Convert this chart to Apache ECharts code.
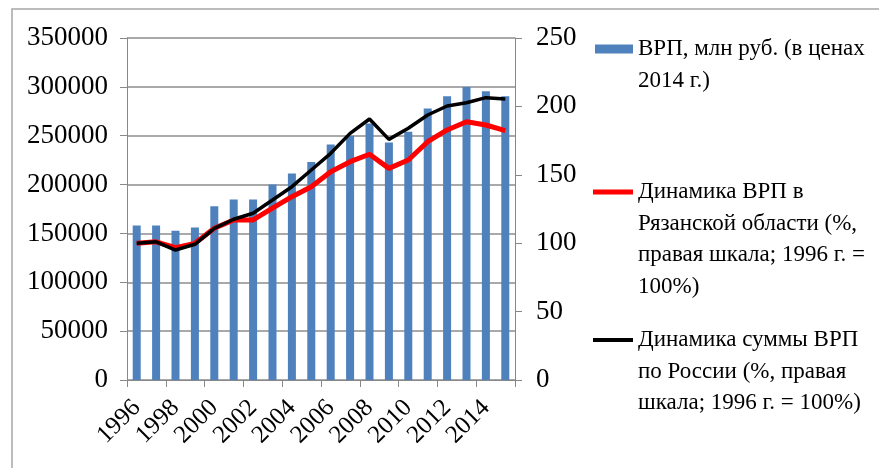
<!DOCTYPE html>
<html>
<head>
<meta charset="utf-8">
<script src="https://cdn.jsdelivr.net/npm/echarts@6/dist/echarts.min.js"></script>
<style>
html,body{margin:0;padding:0;background:#fff;}
#chart{width:879px;height:468px;}
</style>
</head>
<body>
<div id="chart"></div>
<script>
var years = ['1996','1997','1998','1999','2000','2001','2002','2003','2004','2005','2006','2007','2008','2009','2010','2011','2012','2013','2014','2015'];
var grpValues = [158000,158000,152700,156100,177900,184800,184800,200100,211300,223200,241000,250000,262500,243000,254000,277800,290400,299900,295500,290400];
var ryazanIndex = [100,101,96.7,99.9,110.9,117,117,125.7,134,141.3,152.3,159.6,165,154.7,160.8,174.2,182.8,188.8,186.4,182.3];
var russiaIndex = [100,101,95,99.2,110.9,117.5,121.9,131.6,141.3,153.5,165.7,180.3,190.8,175.9,184,193.7,200.3,202.7,206.4,205.4];
var seriesNames = ['ВРП, млн руб. (в ценах\n2014 г.)', 'Динамика ВРП в\nРязанской области (%,\nправая шкала; 1996 г. =\n100%)', 'Динамика суммы ВРП\nпо России (%, правая\nшкала; 1996 г. = 100%)'];
var leftTicks = {min:0, max:350000, interval:50000};
var rightTicks = {min:0, max:250, interval:50};

var FONT = "'Liberation Serif','Times New Roman',serif";
var LH = 31.5;
var chart = echarts.init(document.getElementById('chart'), null, {renderer:'canvas'});
function legendFor(name, iconCenterY, left, w, h){
  var n = name.split('\n').length;
  var top = iconCenterY - (2*n-1)*LH/2;
  return {
    show:true, orient:'vertical', left:left, top:top, padding:0,
    itemWidth:w, itemHeight:h, icon:'rect', selectedMode:false,
    data:[name],
    formatter:function(s){ var pre=''; for(var i=0;i<n-1;i++){pre+=' \n';} return pre + s; },
    textStyle:{fontFamily:FONT, fontSize:23, color:'#000', lineHeight:LH}
  };
}
chart.setOption({
  animation:false,
  backgroundColor:'#fff',
  graphic:[{type:'rect', shape:{x:12,y:9,width:1000,height:1000}, style:{fill:null, stroke:'#a6a6a6', lineWidth:1.5}, silent:true}],
  legend:[
    legendFor(seriesNames[0], 49, 595, 38, 9),
    legendFor(seriesNames[1], 192, 593, 40, 5),
    legendFor(seriesNames[2], 340, 593, 40, 4)
  ],
  grid:{left:127, right:364, top:38, bottom:88},
  xAxis:{
    type:'category', data:years, boundaryGap:true,
    axisLine:{show:true, lineStyle:{color:'#888', width:1}},
    axisTick:{show:true, length:7, lineStyle:{color:'#888'}},
    axisLabel:{interval:1, rotate:45, fontFamily:FONT, fontSize:25, color:'#000', margin:24},
    splitLine:{show:false}
  },
  yAxis:[{
    type:'value', min:leftTicks.min, max:leftTicks.max, interval:leftTicks.interval, position:'left',
    axisLine:{show:true, lineStyle:{color:'#888'}},
    axisTick:{show:true, length:7, lineStyle:{color:'#888'}},
    axisLabel:{fontFamily:FONT, fontSize:27, color:'#000', margin:19, formatter:function(v){return String(v);}},
    splitLine:{show:true, lineStyle:{color:'#8c8c8c', width:1.5}}
  },{
    type:'value', min:rightTicks.min, max:rightTicks.max, interval:rightTicks.interval, position:'right',
    axisLine:{show:true, lineStyle:{color:'#888'}},
    axisTick:{show:true, length:7, lineStyle:{color:'#888'}},
    axisLabel:{fontFamily:FONT, fontSize:27, color:'#000', margin:21, formatter:function(v){return String(v);}},
    splitLine:{show:false}
  }],
  series:[
    {name:seriesNames[0], type:'bar', yAxisIndex:0, data:grpValues, barWidth:8, itemStyle:{color:'#4f81bd'}, z:1},
    {name:seriesNames[1], type:'line', yAxisIndex:1, data:ryazanIndex, symbol:'none', showSymbol:false, lineStyle:{color:'#ff0000', width:5}, itemStyle:{color:'#ff0000'}, z:3},
    {name:seriesNames[2], type:'line', yAxisIndex:1, data:russiaIndex, symbol:'none', showSymbol:false, lineStyle:{color:'#000', width:3.5}, itemStyle:{color:'#000'}, z:4}
  ]
});
</script>
</body>
</html>
